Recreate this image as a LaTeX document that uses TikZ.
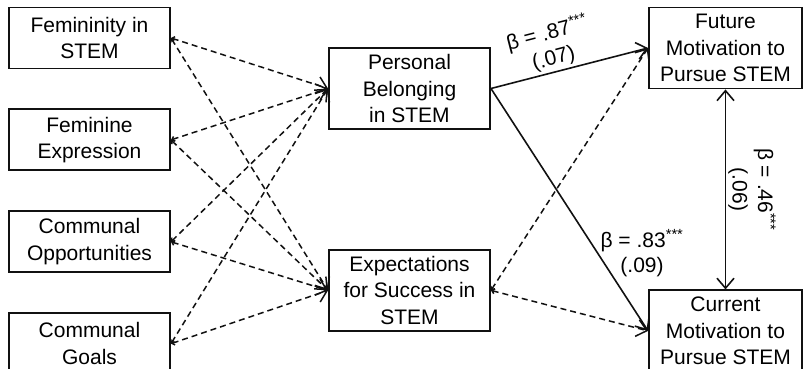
\documentclass[tikz,border=0pt]{standalone}
\usepackage{fontspec}
\setmainfont{Liberation Sans}
\usepackage{xcolor}
\usepackage{tikz}
\usetikzlibrary{arrows.meta,positioning}
\definecolor{inkblack}{HTML}{111111}
\tikzset{
  leftbox/.style={draw=inkblack,line width=1.9pt,fill=white,inner sep=0pt,
    minimum width=161pt,minimum height=61pt,align=center,
    font=\fontsize{21}{26.5}\selectfont},
  midbox/.style={leftbox,minimum height=81pt},
  rightbox/.style={leftbox,minimum width=153pt,minimum height=81pt},
  dasharrow/.style={{Straight Barb[length=2.5pt,width=5pt]}-{Straight Barb[length=10pt,width=17pt]},
    line width=1.5pt,draw=inkblack,dash pattern=on 6pt off 4pt},
  solidarrow/.style={-{Straight Barb[length=10pt,width=17pt]},line width=1.6pt,draw=inkblack},
  bothways/.style={{Straight Barb[length=10pt,width=17pt]}-{Straight Barb[length=10pt,width=17pt]},
    line width=1.6pt,draw=inkblack},
  pathlabel/.style={align=center,inner sep=2pt,font=\fontsize{21}{25.5}\selectfont}
}
\begin{document}
\begin{tikzpicture}
\useasboundingbox (0,0) rectangle (803pt,-368pt);
\node[leftbox] (femstem) at (89.5pt,-38pt) {Femininity in\\STEM};
\node[leftbox, below=39pt of femstem] (femexpr) {Feminine\\Expression};
\node[leftbox, below=39pt of femexpr] (commopp) {Communal\\Opportunities};
\node[leftbox, below=39pt of commopp] (commgoal) {Communal\\Goals};

\node[midbox] (belong) at (409.5pt,-88.5pt) {Personal\\Belonging\\in STEM};
\node[midbox, below=119pt of belong] (expect) {Expectations\\for Success in\\STEM};

\node[rightbox] (future) at (725.5pt,-48pt) {Future\\Motivation to\\Pursue STEM};
\node[rightbox, below=200pt of future] (current) {Current\\Motivation to\\Pursue STEM};

% predictors to mediators
\foreach \src in {femstem,femexpr,commopp,commgoal}{
  \draw[dasharrow] (\src.east) -- (belong.west);
  \draw[dasharrow] (\src.east) -- (expect.west);
}

% mediators to outcomes
\draw[solidarrow] (belong.east) -- node[pathlabel, sloped, above, pos=0.42]
  {β = .87\textsuperscript{***}\\(.07)} (future.west);
\draw[solidarrow] (belong.east) -- node[pathlabel, pos=0.68, anchor=west]
  {β = .83\textsuperscript{***}\\(.09)} (current.west);
\draw[dasharrow] (expect.east) -- (future.west);
\draw[dasharrow] (expect.east) -- (current.west);

\draw[bothways] (future.south) -- node[pathlabel, midway, anchor=south, rotate=-90]
  {β = .46\textsuperscript{***}\\(.06)} (current.north);
\end{tikzpicture}
\end{document}
